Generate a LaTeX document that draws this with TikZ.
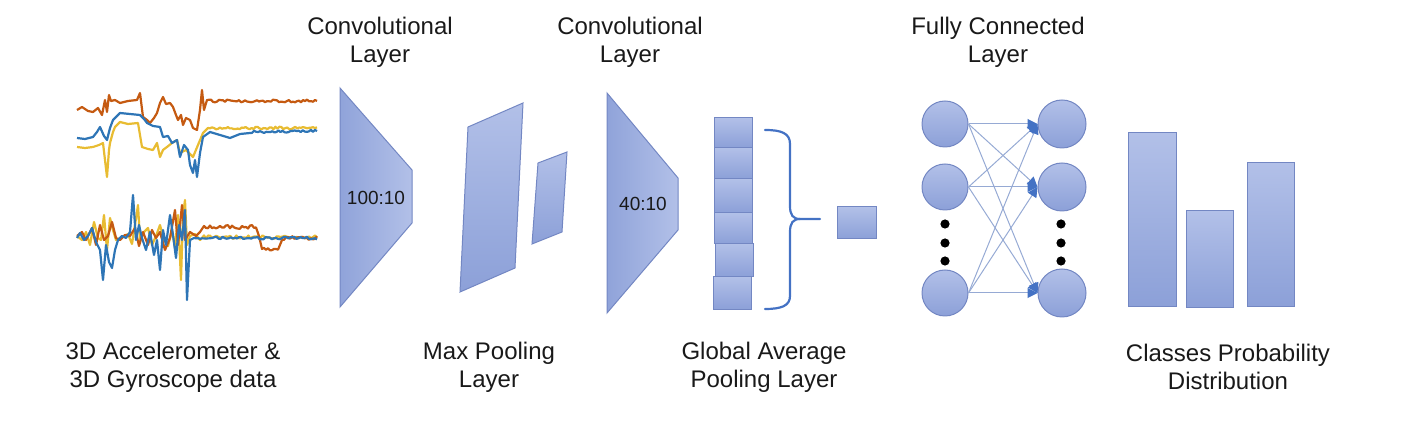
\documentclass[tikz,border=0pt]{standalone}
\usepackage{fontspec}
\setmainfont{Liberation Sans}
\usetikzlibrary{arrows.meta}
\definecolor{sigred}{RGB}{197,90,17}
\definecolor{sigblue}{RGB}{46,117,182}
\definecolor{sigyel}{RGB}{232,188,50}
\definecolor{fillA}{RGB}{178,192,232}
\definecolor{fillB}{RGB}{140,160,216}
\definecolor{edgec}{RGB}{115,135,195}
\definecolor{arrowc}{RGB}{68,114,196}
\definecolor{linkc}{RGB}{150,170,212}
\definecolor{txtc}{RGB}{25,25,25}
\begin{document}
\begin{tikzpicture}[x=0.5pt,y=-0.5pt,
  label/.style={font=\fontsize{12}{14}\selectfont, text=txtc, align=center, inner sep=0pt},
  inner/.style={font=\fontsize{9.5}{11}\selectfont, text=txtc, inner sep=0pt},
  layer/.style={draw=edgec, line width=0.5pt, top color=fillA, bottom color=fillB},
  hlayer/.style={draw=edgec, line width=0.5pt, left color=fillB!90!fillA, right color=fillA},
  cell/.style={draw=edgec, line width=0.6pt, top color=fillA, bottom color=fillB, minimum width=19pt, inner sep=0pt},
  neuron/.style={circle, draw=edgec, line width=0.5pt, top color=fillA, bottom color=fillB, minimum size=23pt, inner sep=0pt},
  link/.style={draw=linkc, line width=0.5pt, -{Triangle[length=5pt,width=5pt,color=arrowc]}},
  sig/.style={line width=1.1pt, line join=round},
]
\useasboundingbox (0,0) rectangle (1414,432);

% ---------- signals (top) ----------
\pgfmathsetseed{7}
\draw[sig, sigyel] (77,147) -- (85,148) -- (93,147) -- (99,145) -- (103,143) -- (105,160) -- (107,177) -- (109,150) -- (110,143) -- (113,132) -- (115,127) -- (120,122) -- (128,124) -- (138,123) -- (140,135) -- (142,147) -- (148,149) -- (153,150) -- (157,143) -- (160,157) -- (163,150) -- (167,147) -- (172,143) -- (177,140) -- (180,153) -- (186,150) -- (193,157) -- (198,145) -- (203,133) -- (208,128)
  -- plot[domain=210:317, samples=55] (\x, {128+1.3*rand});
\draw[sig, sigred] (77,110) -- (82,107) -- (88,111) -- (93,112) -- (98,108) -- (102,115) -- (105,100) -- (107,112) -- (109,95) -- (111,101) -- (115,100) -- (120,103) -- (128,101) -- (137,100) -- (140,93) -- (143,117) -- (147,120) -- (150,123) -- (154,118) -- (157,113) -- (160,103) -- (163,97) -- (166,104) -- (170,103) -- (173,107) -- (176,115) -- (178,120) -- (181,115) -- (183,125) -- (186,118) -- (190,120) -- (193,128) -- (197,130) -- (200,110) -- (202,90) -- (204,110) -- (207,100)
  -- plot[domain=209:317, samples=55] (\x, {101+1.4*rand});
\draw[sig, sigblue] (77,138) -- (85,139) -- (93,137) -- (97,132) -- (100,127) -- (104,136) -- (107,140) -- (110,128) -- (113,120) -- (117,116) -- (120,113) -- (130,114) -- (140,115) -- (144,119) -- (147,123) -- (153,126) -- (160,127) -- (163,137) -- (168,136) -- (172,143) -- (177,140) -- (180,157) -- (184,145) -- (188,150) -- (190,165) -- (193,173) -- (195,160) -- (197,177) -- (200,153) -- (203,137) -- (210,132) -- (220,135) -- (230,138) -- (240,134) -- (250,133)
  -- plot[domain=252:317, samples=33] (\x, {132-0.02*(\x-252)+1.2*rand});

% ---------- signals (bottom) ----------
\draw[sig, sigyel] (77,236) -- (82,240) -- (86,232) -- (90,245) -- (94,222) -- (98,238) -- (101,240) -- (104,215) -- (107,250) -- (110,218) -- (113,230) -- (116,240) -- (120,238) -- (124,236) -- (128,234) -- (132,244) -- (135,225) -- (138,205) -- (140,240) -- (144,232) -- (148,228) -- (152,245) -- (156,236) -- (160,225) -- (164,240) -- (168,246) -- (172,230) -- (175,248) -- (178,215) -- (181,280) -- (183,215) -- (185,200) -- (187,245) -- (190,236) -- (195,234) -- (200,240)
  -- plot[domain=202:317, samples=58] (\x, {237+1.6*rand});
\draw[sig, sigred] (77,236) -- (82,232) -- (86,240) -- (92,228) -- (96,245) -- (100,225) -- (104,240) -- (108,236) -- (112,222) -- (116,238) -- (120,240) -- (125,235) -- (130,236) -- (135,228) -- (139,246) -- (143,232) -- (148,245) -- (152,230) -- (156,238) -- (160,232) -- (165,250) -- (170,238) -- (175,210) -- (178,245) -- (182,205) -- (185,240) -- (190,232) -- (196,236) -- (200,232) -- (204,226)
  -- plot[domain=206:256, samples=26] (\x, {227+2*rand}) -- (259,236) -- (262,249)
  -- plot[domain=264:278, samples=8] (\x, {249+1.5*rand}) -- (282,240)
  -- plot[domain=284:317, samples=17] (\x, {238+2*rand});
\draw[sig, sigblue] (77,238) -- (80,233) -- (84,240) -- (88,236) -- (92,228) -- (96,242) -- (100,250) -- (103,280) -- (106,245) -- (109,262) -- (112,268) -- (115,250) -- (118,240) -- (122,236) -- (126,238) -- (130,232) -- (133,195) -- (136,240) -- (139,225) -- (142,238) -- (146,250) -- (150,232) -- (154,255) -- (157,240) -- (160,270) -- (163,230) -- (166,245) -- (170,215) -- (173,235) -- (176,258) -- (179,225) -- (182,240) -- (185,210) -- (187,300) -- (190,240) -- (194,238)
  -- plot[domain=196:317, samples=60] (\x, {238+1.4*rand});

% ---------- convolutional layer 1 ----------
\draw[hlayer] (340,88) -- (412,170) -- (412,223) -- (340,307) -- cycle;
\node[inner] (k1) at (376,198) {100:10};

% ---------- max pooling ----------
\draw[layer] (468,127) -- (523,103) -- (515,268) -- (460,292) -- cycle;
\draw[layer] (538,163) -- (567,152) -- (562,232) -- (532,244) -- cycle;

% ---------- convolutional layer 2 ----------
\draw[hlayer] (607,93) -- (678,178) -- (678,230) -- (607,313) -- cycle;
\node[inner] (k2) at (643,204) {40:10};

% ---------- global average pooling stack ----------
\node[cell, minimum height=15pt, anchor=north west] (c1) at (714,117) {};
\node[cell, minimum height=15.5pt, anchor=north west] (c2) at (714,147) {};
\node[cell, minimum height=17pt, anchor=north west] (c3) at (714,178) {};
\node[cell, minimum height=15.5pt, anchor=north west] (c4) at (714,212) {};
\node[cell, minimum height=16.5pt, anchor=north west] (c5) at (715,243) {};
\node[cell, minimum height=16.5pt, anchor=north west] (c6) at (713,276) {};

% brace
\draw[arrowc, line width=1.1pt, line cap=round]
  (765,130) .. controls (781,130) and (790,133) .. (790,144) -- (790,206)
  .. controls (790,215) and (793,219) .. (800,219) -- (820,219);
\draw[arrowc, line width=1.1pt, line cap=round]
  (800,219) .. controls (793,219) and (790,223) .. (790,232) -- (790,296)
  .. controls (790,306) and (781,309) .. (765,309);

\node[cell, minimum width=19.5pt, minimum height=16pt, anchor=north west] (gap) at (837,206) {};

% ---------- fully connected ----------
\node[neuron] (l1) at (945,124) {};
\node[neuron] (l2) at (945,187) {};
\node[neuron] (l3) at (945,293) {};
\node[neuron, minimum size=24pt] (r1) at (1062,124) {};
\node[neuron, minimum size=24pt] (r2) at (1062,187) {};
\node[neuron, minimum size=24pt] (r3) at (1062,293) {};
\foreach \i in {1,2,3}{
  \foreach \j in {1,2,3}{
    \draw[link] (l\i.east) -- (r\j.west);
  }
}
\foreach \yy in {224,243,261}{
  \fill[black] (945,\yy) circle (2.3pt);
  \fill[black] (1061,\yy) circle (2.3pt);
}

% ---------- output bars ----------
\draw[layer] (1128,133) rectangle (1176,307);
\draw[layer] (1186,211) rectangle (1233,308);
\draw[layer] (1247,163) rectangle (1294,307);

% ---------- labels ----------
\node[label] (t1) at (380,42) {Convolutional\\Layer};
\node[label] (t2) at (630,42) {Convolutional\\Layer};
\node[label] (t3) at (998,42) {Fully Connected\\Layer};
\node[label] (b1) at (173,367) {3D Accelerometer \&\\3D Gyroscope data};
\node[label] (b2) at (489,367) {Max Pooling\\Layer};
\node[label] (b3) at (764,367) {Global Average\\Pooling Layer};
\node[label] (b4) at (1228,367) {Classes Probability\\Distribution};
\end{tikzpicture}
\end{document}
